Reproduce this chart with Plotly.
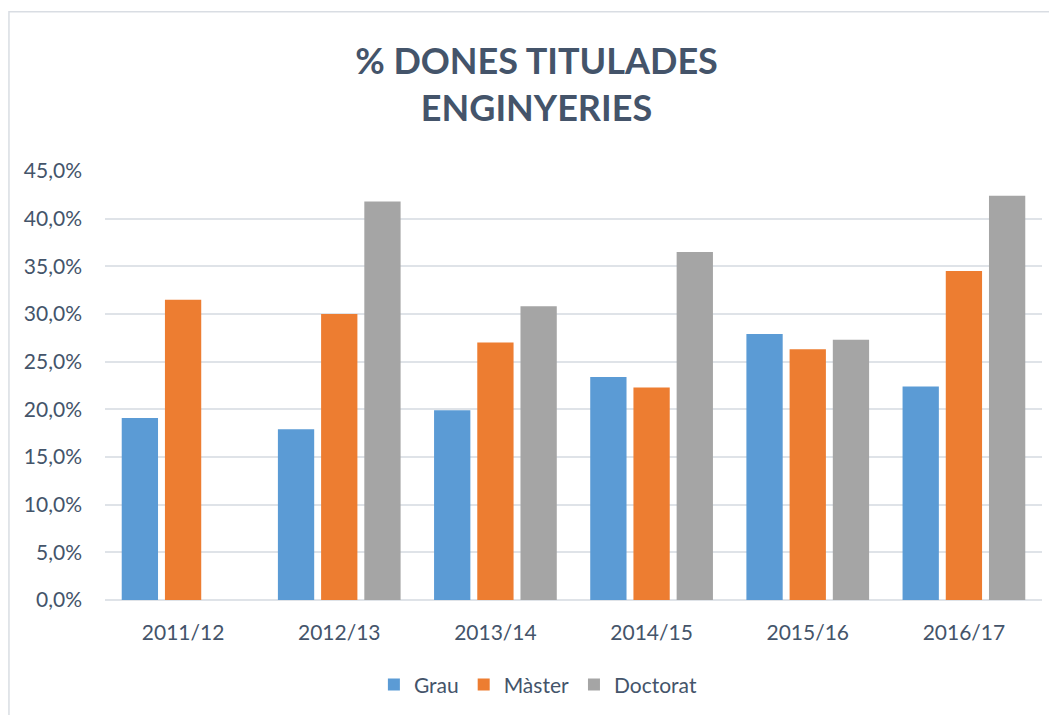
import plotly.graph_objects as go

years = ["2011/12", "2012/13", "2013/14", "2014/15", "2015/16", "2016/17"]
grau = [19.1, 17.9, 19.9, 23.4, 27.9, 22.4]
master = [31.5, 30.0, 27.0, 22.3, 26.3, 34.5]
doctorat = [None, 41.8, 30.8, 36.5, 27.3, 42.4]

series = [("Grau", grau, "#5b9bd5"),
          ("Màster", master, "#ed7d31"),
          ("Doctorat", doctorat, "#a5a5a5")]

txt = "#44546a"
font = "Lato"

fig = go.Figure()
for name, vals, col in series:
    fig.add_trace(go.Bar(x=years, y=vals, name=name, marker_color=col,
                         marker_line_width=0))

# page adds an 8px body margin, so margins are shifted by that much
fig.update_layout(
    width=1057, height=715,
    margin=dict(l=97, r=23, t=163, b=123),
    paper_bgcolor="white", plot_bgcolor="white",
    separators=",.",
    font=dict(family=font, color=txt, size=21),
    title=dict(text="<b>% DONES TITULADES<br>ENGINYERIES</b>",
               x=0.5, xanchor="center", y=0.907, yanchor="middle",
               font=dict(family=font, size=36, color=txt)),
    barmode="group", bargap=0.17, bargroupgap=0.16,
    legend=dict(orientation="h", x=0.462, xanchor="center", y=-0.198,
                yanchor="middle", font=dict(size=21, color=txt),
                itemwidth=30),
    showlegend=True,
)
fig.update_yaxes(range=[0, 45], dtick=5, tickformat=".1f", ticksuffix="%",
                 showgrid=True, gridcolor="#dfe3e8", gridwidth=1.5,
                 zeroline=True, zerolinecolor="#dfe3e8", zerolinewidth=1.5,
                 ticks="", ticklabelstandoff=22, showline=False,
                 tickfont=dict(size=21, color=txt))
fig.update_xaxes(showline=False, ticks="", tickfont=dict(size=21, color=txt),
                 ticklabelstandoff=18)

# outer chart frame
fig.add_shape(type="rect", xref="paper", yref="paper",
              x0=-0.1025, x1=1.2, y0=-0.4, y1=1.371,
              line=dict(color="#d9dde3", width=1.5), layer="below")

fig.write_html("out.html")
